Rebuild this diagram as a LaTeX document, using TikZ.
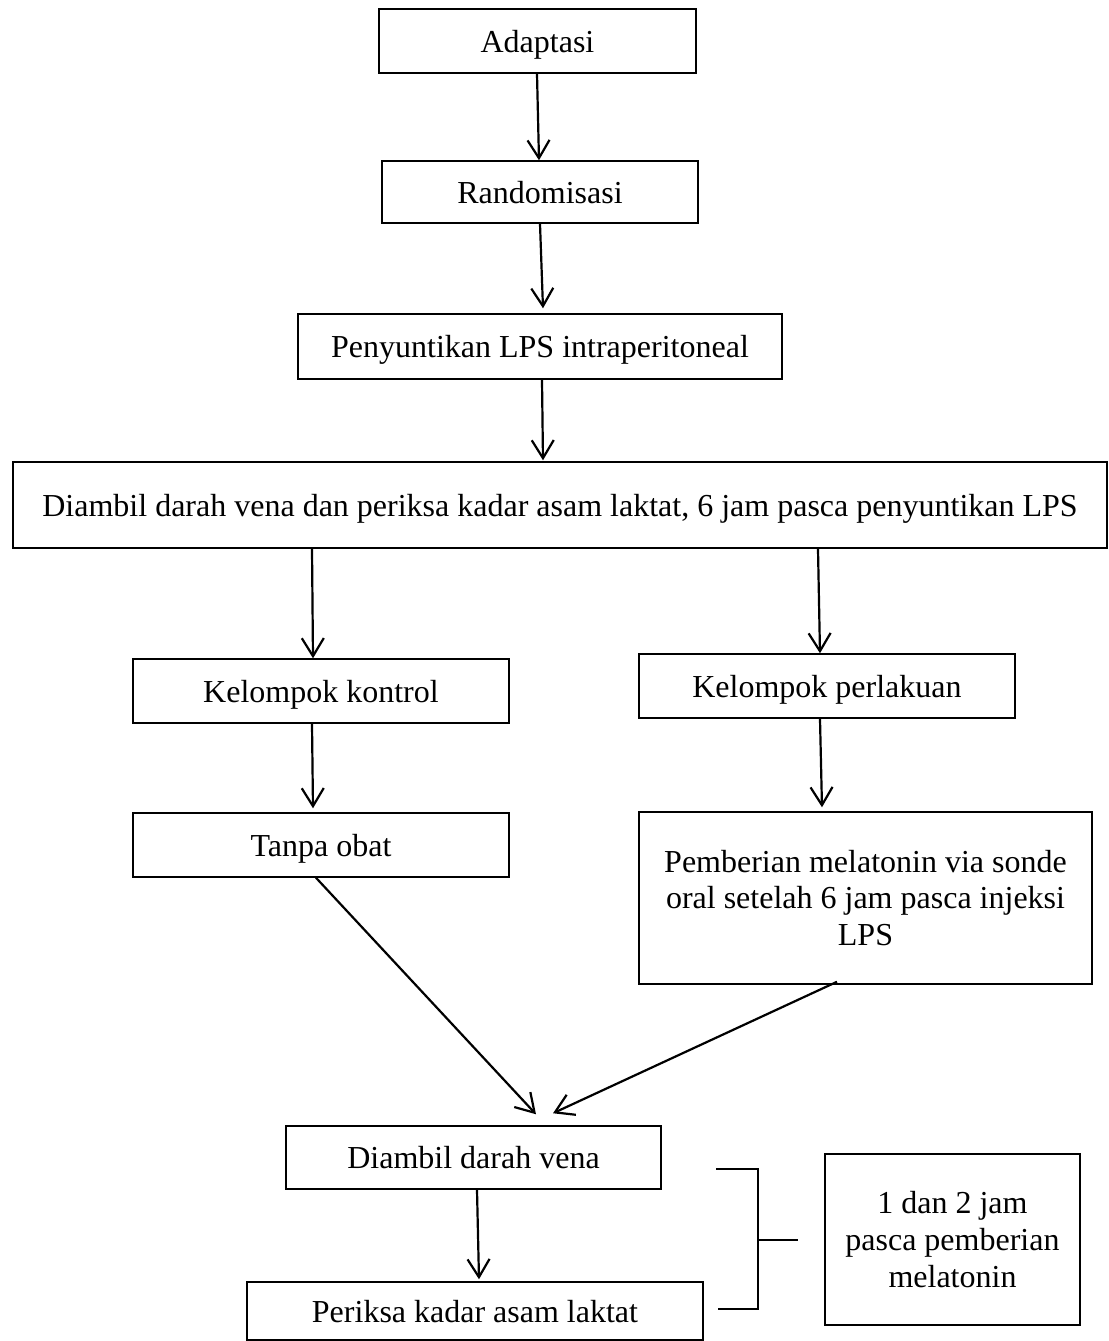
\documentclass[tikz,border=0pt]{standalone}
\usepackage{fontspec}
\setmainfont{Liberation Serif}
\usetikzlibrary{arrows.meta}
\begin{document}
\begin{tikzpicture}[x=0.5pt,y=-0.5pt,
  box/.style={draw, line width=0.75pt, inner sep=0pt, align=center, font=\fontsize{16}{18.4}\selectfont},
  oneline/.style={text height=14.5pt, text depth=3.5pt},
  arr/.style={line width=1.1pt, -{Straight Barb[length=9pt,width=11pt,line width=1.1pt]}},
  brk/.style={line width=0.8pt}]
\useasboundingbox (0,0) rectangle (1109,1341);
\node[box, oneline, minimum width=158.5pt, minimum height=32pt] (A) at (537.5,41) {Adaptasi};
\node[box, oneline, minimum width=158pt, minimum height=31pt] (R) at (540,192) {Randomisasi};
\node[box, oneline, minimum width=242pt, minimum height=32.5pt] (P) at (540,346.5) {Penyuntikan LPS intraperitoneal};
\node[box, oneline, minimum width=547pt, minimum height=43pt] (D) at (560,505) {Diambil darah vena dan periksa kadar asam laktat, 6 jam pasca penyuntikan LPS};
\node[box, oneline, minimum width=188pt, minimum height=32pt] (K) at (321,691) {Kelompok kontrol};
\node[box, oneline, minimum width=188pt, minimum height=32pt] (L) at (827,686) {Kelompok perlakuan};
\node[box, oneline, minimum width=188pt, minimum height=32pt] (T) at (321,845) {Tanpa obat};
\node[box, minimum width=226.5pt, minimum height=86pt] (M) at (865.5,898) {Pemberian melatonin via sonde\\oral setelah 6 jam pasca injeksi\\LPS};
\node[box, oneline, minimum width=187.5pt, minimum height=31.5pt] (V) at (473.5,1157.5) {Diambil darah vena};
\node[box, oneline, minimum width=228pt, minimum height=29pt] (Q) at (475,1311) {Periksa kadar asam laktat};
\node[box, minimum width=127.5pt, minimum height=85.5pt] (B) at (952.5,1239.5) {1 dan 2 jam\\pasca pemberian\\melatonin};

\draw[arr] ([xshift=-0.25pt]A.south) -- ([xshift=-0.5pt]R.north);
\draw[arr] (R.south) -- ([xshift=1.5pt,yshift=2.5pt]P.north);
\draw[arr] ([xshift=1pt]P.south) -- ([xshift=-8.5pt,yshift=0.5pt]D.north);
\draw[arr] ([xshift=-124pt]D.south) -- ([xshift=-4pt]K.north);
\draw[arr] ([xshift=129pt]D.south) -- ([xshift=-3.5pt]L.north);
\draw[arr] ([xshift=-4.5pt]K.south) -- ([xshift=-4pt,yshift=2pt]T.north);
\draw[arr] ([xshift=-3.5pt]L.south) -- ([xshift=-21.75pt,yshift=2pt]M.north);
\draw[arr] ([xshift=-2.5pt]T.south) -- ([xshift=31.25pt,yshift=5.5pt]V.north);
\draw[arr] ([xshift=-14.25pt,yshift=1.5pt]M.south) -- ([xshift=39.75pt,yshift=6pt]V.north);
\draw[arr] ([xshift=1.75pt]V.south) -- ([xshift=2pt,yshift=1pt]Q.north);

\coordinate (b1) at (716,1169);
\coordinate (b2) at (758,1169);
\coordinate (b3) at (758,1309);
\coordinate (b4) at (718,1309);
\coordinate (b5) at (758,1240);
\coordinate (b6) at (798,1240);
\draw[brk] (b1) -- (b2) -- (b3) -- (b4);
\draw[brk] (b5) -- (b6);
\end{tikzpicture}
\end{document}
